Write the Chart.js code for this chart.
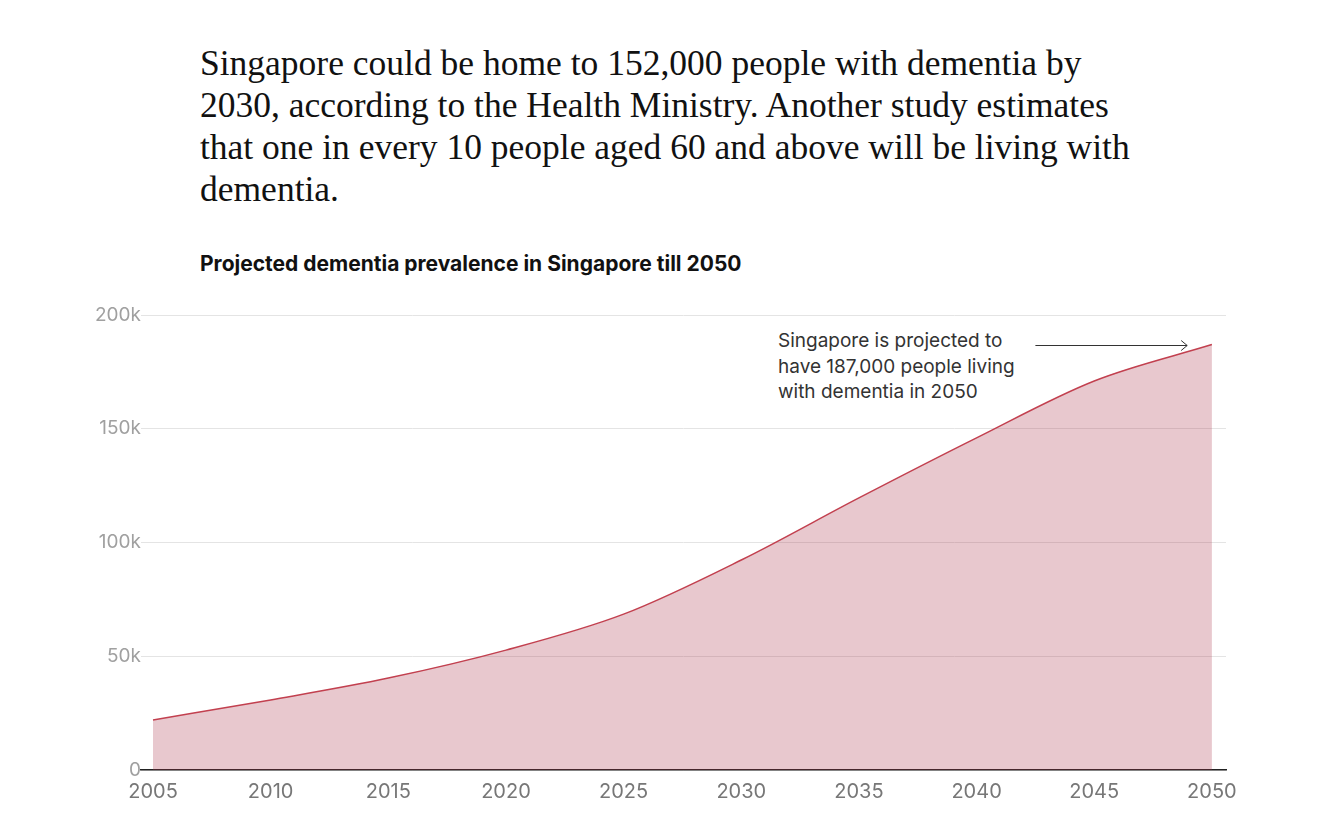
<!DOCTYPE html>
<html>
<head>
<meta charset="utf-8">
<script src="https://cdn.jsdelivr.net/npm/chart.js@4"></script>
<style>
  body { margin: 0; background: #fff; width: 1342px; height: 834px; overflow: hidden; position: relative; }
  .lede { position: absolute; left: 200px; top: 42px; width: 1000px; font-family: "Liberation Serif", serif; font-size: 35.5px; line-height: 42px; color: #111; }
  .subtitle { position: absolute; left: 200px; top: 252px; font-family: Inter, sans-serif; font-weight: 700; font-size: 21px; line-height: 24px; color: #111; }
  .note { position: absolute; left: 778px; top: 328px; font-family: Inter, sans-serif; font-size: 19px; line-height: 25.5px; color: #333; }
  .wrap { position: absolute; left: 0; top: 290px; width: 1342px; height: 544px; }
</style>
</head>
<body>
<div class="lede">Singapore could be home to 152,000 people with dementia by<br>2030, according to the Health Ministry. Another study estimates<br>that one in every 10 people aged 60 and above will be living with<br>dementia.</div>
<div class="subtitle">Projected dementia prevalence in Singapore till 2050</div>
<div class="note">Singapore is projected to<br>have 187,000 people living<br>with dementia in 2050</div>
<div class="wrap"><canvas id="chart"></canvas></div>
<script>
// values
const years = [2005, 2010, 2015, 2020, 2025, 2030, 2035, 2040, 2045, 2050];
const patients = [22000, 30800, 40400, 52700, 68500, 92300, 119600, 146000, 171000, 187000];
const xTicks = [2005, 2010, 2015, 2020, 2025, 2030, 2035, 2040, 2045, 2050];
const yTicks = [0, 50000, 100000, 150000, 200000];

// arrow pointing to the 2050 value
const arrowPlugin = {
    id: 'arrow',
    afterDatasetsDraw(chart) {
        const { ctx, scales } = chart;
        const y = Math.round(scales.y.getPixelForValue(187000));
        const x1 = scales.x.getPixelForValue(2042.5);
        const x2 = scales.x.getPixelForValue(2048.95);
        ctx.save();
        ctx.strokeStyle = '#333';
        ctx.lineWidth = 1;
        ctx.beginPath();
        ctx.moveTo(x1, y + 0.5);
        ctx.lineTo(x2, y + 0.5);
        ctx.moveTo(x2 - 6, y - 4.5);
        ctx.lineTo(x2, y + 0.5);
        ctx.lineTo(x2 - 6, y + 5.5);
        ctx.stroke();
        ctx.restore();
    }
};

new Chart(document.getElementById('chart'), {
    type: 'line',
    plugins: [arrowPlugin],
    data: {
        datasets: [{
            data: years.map((y, i) => ({ x: y, y: patients[i] })),
            borderColor: '#c2404f',
            borderWidth: 1.5,
            backgroundColor: 'rgba(170, 51, 74, 0.27)',
            fill: 'origin',
            pointRadius: 0,
            cubicInterpolationMode: 'monotone'
        }]
    },
    options: {
        responsive: true,
        maintainAspectRatio: false,
        animation: false,
        layout: { padding: { top: 25, right: 116, left: 0, bottom: 0 } },
        plugins: { legend: { display: false }, tooltip: { enabled: false } },
        scales: {
            x: {
                type: 'linear',
                min: 2004.49,
                max: 2050.6,
                afterBuildTicks: s => { s.ticks = xTicks.map(v => ({ value: v })); },
                afterFit: s => { s.height = 64; },
                grid: { display: false, drawTicks: false },
                border: { color: '#222', width: 1.5 },
                ticks: {
                    padding: 10,
                    color: '#777',
                    font: { family: 'Inter', size: 20 },
                    callback: v => String(v)
                }
            },
            y: {
                min: 0,
                max: 200000,
                afterBuildTicks: s => { s.ticks = yTicks.map(v => ({ value: v })); },
                afterFit: s => { s.width = 141; },
                grid: { color: '#e4e4e4', drawTicks: false },
                border: { display: false },
                ticks: {
                    padding: 0,
                    color: '#a0a0a0',
                    font: { family: 'Inter', size: 19 },
                    callback: v => v === 0 ? '0' : (v / 1000) + 'k'
                }
            }
        }
    }
});
</script>
</body>
</html>
